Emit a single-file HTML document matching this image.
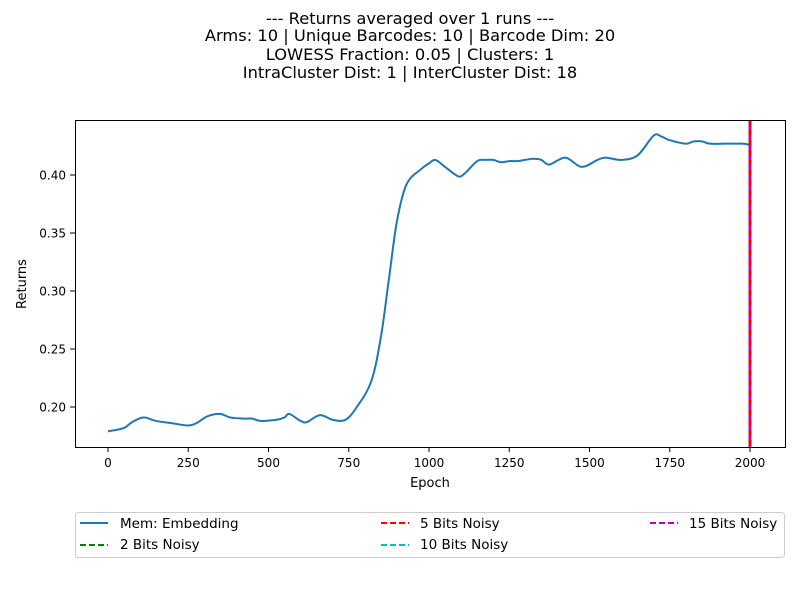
<!DOCTYPE html>
<html><head><meta charset="utf-8"><style>
body{margin:0;background:#fff}
svg text{font-family:"DejaVu Sans","Liberation Sans",sans-serif;fill:#000}
</style></head><body>
<svg id="chart" width="800" height="600" xmlns="http://www.w3.org/2000/svg">
<rect width="800" height="600" fill="#fff"/>
<g font-size="16.3" text-anchor="middle">
<text x="410" y="24">--- Returns averaged over 1 runs ---</text>
<text x="410" y="41">Arms: 10 | Unique Barcodes: 10 | Barcode Dim: 20</text>
<text x="410" y="60">LOWESS Fraction: 0.05 | Clusters: 1</text>
<text x="410" y="78">IntraCluster Dist: 1 | InterCluster Dist: 18</text>
</g>
<g id="plot"></g>
<rect x="75.5" y="120.5" width="710" height="327" fill="none" stroke="#000" stroke-width="1"/>
<text x="430" y="487" font-size="13" text-anchor="middle">Epoch</text>
<text x="26" y="284" font-size="13" text-anchor="middle" transform="rotate(-90 26 284)">Returns</text>
<g>
<rect x="75.5" y="512.5" width="709" height="45" rx="3" fill="#fff" stroke="#ccc"/>
<line x1="80" y1="523" x2="108" y2="523" stroke="#1f77b4" stroke-width="2"/>
<text x="120" y="528" font-size="13.5">Mem: Embedding</text>
<line x1="80" y1="545" x2="108" y2="545" stroke="#008000" stroke-width="2" stroke-dasharray="6,3"/>
<text x="120" y="549" font-size="13.5">2 Bits Noisy</text>
<line x1="381" y1="523" x2="409" y2="523" stroke="#ff0000" stroke-width="2" stroke-dasharray="6,3"/>
<text x="420" y="528" font-size="13.5">5 Bits Noisy</text>
<line x1="381" y1="545" x2="409" y2="545" stroke="#00bfbf" stroke-width="2" stroke-dasharray="6,3"/>
<text x="420" y="549" font-size="13.5">10 Bits Noisy</text>
<line x1="650" y1="523" x2="678" y2="523" stroke="#bf00bf" stroke-width="2" stroke-dasharray="6,3"/>
<text x="689" y="528" font-size="13.5">15 Bits Noisy</text>
</g>
</svg>
<script>
const epochs=[0,50,75,110,150,200,250,275,310,350,380,425,450,475,525,550,565,600,620,660,700,740,775,820,850,875,900,930,975,1000,1020,1050,1090,1110,1150,1175,1200,1225,1250,1275,1300,1325,1350,1375,1425,1475,1525,1550,1600,1650,1700,1725,1750,1800,1825,1850,1875,1925,1975,2000];
const returnsVals=[0.179,0.182,0.187,0.191,0.188,0.186,0.184,0.186,0.192,0.194,0.191,0.190,0.190,0.188,0.189,0.191,0.194,0.188,0.187,0.193,0.189,0.189,0.200,0.222,0.26,0.31,0.36,0.392,0.405,0.410,0.413,0.407,0.399,0.401,0.412,0.413,0.413,0.411,0.412,0.412,0.413,0.414,0.413,0.409,0.415,0.407,0.413,0.415,0.413,0.417,0.434,0.433,0.430,0.427,0.429,0.429,0.427,0.427,0.427,0.426];
const xTicks=[0,250,500,750,1000,1250,1500,1750,2000];
const yTicks=[0.20,0.25,0.30,0.35,0.40];
const vlineEpochs=[2000,2000,2000,2000];
const vlineColors=["#008000","#00bfbf","#ff0000","#bf00bf"];
const vlineNames=["vline-2-bits","vline-10-bits","vline-5-bits","vline-15-bits"];
const NS="http://www.w3.org/2000/svg";
const X=v=>108+(v-0)*0.321;
const Y=v=>407-(v-0.20)*1160;
const g=document.getElementById('plot');
function mk(t,a){const e=document.createElementNS(NS,t);for(const k in a)e.setAttribute(k,a[k]);g.appendChild(e);return e;}
xTicks.forEach(t=>{
 const l=mk('line',{x1:X(t),x2:X(t),y1:447,y2:452,stroke:'#000'});
 
 
 const tx=mk('text',{x:X(t),y:467,'font-size':12,'text-anchor':'middle'});tx.textContent=t;
 
 
});
yTicks.forEach(t=>{
 const l=mk('line',{x1:70,x2:75,y1:Y(t),y2:Y(t),stroke:'#000'});
 
 
 const tx=mk('text',{x:66,y:Y(t)+4.5,'font-size':12,'text-anchor':'end'});tx.textContent=t.toFixed(2);
 
 
});
const P=epochs.map((e,i)=>[X(e),Y(returnsVals[i])]);
let d='M'+P[0][0]+','+P[0][1];
for(let i=0;i<P.length-1;i++){
 const p0=P[Math.max(0,i-1)],p1=P[i],p2=P[i+1],p3=P[Math.min(P.length-1,i+2)];
 const c1=[p1[0]+(p2[0]-p0[0])/6,p1[1]+(p2[1]-p0[1])/6];
 const c2=[p2[0]-(p3[0]-p1[0])/6,p2[1]-(p3[1]-p1[1])/6];
 d+=' C'+c1+' '+c2+' '+p2;
}
const line=mk('path',{d:d,fill:'none',stroke:'#1f77b4','stroke-width':2});


const offsets=[0,0,0,5];
vlineEpochs.forEach((e,i)=>{
 const v=mk('line',{x1:X(e),x2:X(e),y1:120,y2:447,stroke:vlineColors[i],'stroke-width':3,'stroke-dasharray':'5,5','stroke-dashoffset':offsets[i]});
 
 
});
</script>
</body></html>
